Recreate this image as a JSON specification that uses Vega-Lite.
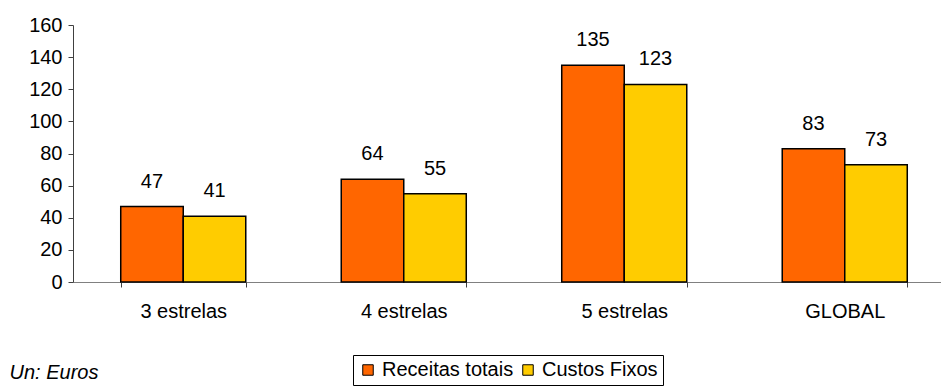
{
  "$schema": "https://vega.github.io/schema/vega-lite/v6.json",
  "width": 868,
  "height": 257,
  "autosize": {"type": "none"},
  "padding": {"left": 73, "top": 25, "right": 0, "bottom": 105},
  "config": {
    "view": {"stroke": null},
    "font": "Liberation Sans",
    "legend": {
      "orient": "none",
      "legendX": 280,
      "legendY": 330,
      "direction": "horizontal",
      "strokeColor": "#000000",
      "padding": 5,
      "symbolType": "square",
      "symbolSize": 110,
      "symbolStrokeColor": "#000000",
      "symbolStrokeWidth": 1,
      "symbolOpacity": 1,
      "labelFontSize": 20,
      "labelColor": "#000000",
      "labelOffset": 4,
      "columnPadding": 4
    }
  },
  "data": {
    "values": [
      {"categoria": "3 estrelas", "serie": "Receitas totais", "valor": 47},
      {"categoria": "3 estrelas", "serie": "Custos Fixos", "valor": 41},
      {"categoria": "4 estrelas", "serie": "Receitas totais", "valor": 64},
      {"categoria": "4 estrelas", "serie": "Custos Fixos", "valor": 55},
      {"categoria": "5 estrelas", "serie": "Receitas totais", "valor": 135},
      {"categoria": "5 estrelas", "serie": "Custos Fixos", "valor": 123},
      {"categoria": "GLOBAL", "serie": "Receitas totais", "valor": 83},
      {"categoria": "GLOBAL", "serie": "Custos Fixos", "valor": 73}
    ]
  },
  "encoding": {
    "x": {
      "field": "categoria",
      "type": "nominal",
      "sort": null,
      "title": "Un: Euros",
      "scale": {"range": [0, 882], "paddingInner": 0.433, "paddingOuter": 0.2165},
      "axis": {
        "labelAngle": 0,
        "tickBand": "extent",
        "domainColor": "#808080",
        "tickColor": "#404040",
        "tickSize": 5,
        "labelFontSize": 20,
        "labelColor": "#000000",
        "labelPadding": 14,
        "titleFontSize": 20,
        "titleFontStyle": "italic",
        "titleFontWeight": "normal",
        "titleColor": "#000000",
        "titleAlign": "left",
        "titleAnchor": "start",
        "titleBaseline": "alphabetic",
        "titleX": -64,
        "titleY": 96
      }
    },
    "xOffset": {
      "field": "serie",
      "type": "nominal",
      "sort": null,
      "scale": {"paddingInner": 0, "paddingOuter": 0}
    },
    "y": {
      "field": "valor",
      "type": "quantitative",
      "scale": {"domain": [0, 160], "nice": false},
      "axis": {
        "title": null,
        "values": [0, 20, 40, 60, 80, 100, 120, 140, 160],
        "grid": false,
        "domainColor": "#404040",
        "tickColor": "#404040",
        "tickSize": 5,
        "labelFontSize": 20,
        "labelColor": "#000000",
        "labelPadding": 6
      }
    }
  },
  "layer": [
    {
      "mark": {"type": "bar", "stroke": "#000000", "strokeWidth": 1.5},
      "encoding": {
        "color": {
          "field": "serie",
          "type": "nominal",
          "sort": null,
          "scale": {"domain": ["Receitas totais", "Custos Fixos"], "range": ["#FF6600", "#FFCC00"]},
          "legend": {"title": null}
        }
      }
    },
    {
      "mark": {"type": "text", "baseline": "alphabetic", "dy": -19, "fontSize": 20, "color": "#000000"},
      "encoding": {"text": {"field": "valor", "type": "quantitative"}}
    }
  ]
}
